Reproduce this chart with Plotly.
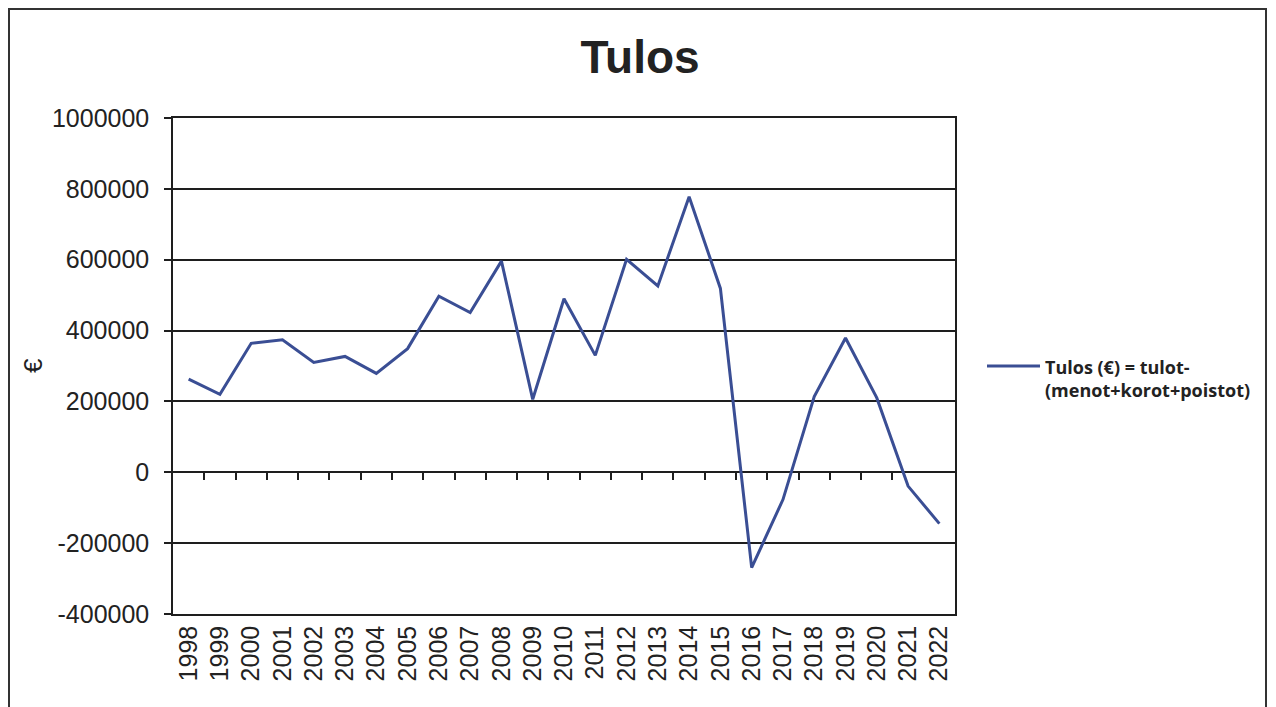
import plotly.graph_objects as go

# --- Data ---
years = [str(y) for y in range(1998, 2023)]
tulos = [263000, 220000, 364000, 374000, 310000, 327000, 279000, 349000,
         497000, 451000, 596000, 206000, 490000, 330000, 601000, 526000,
         778000, 519000, -269000, -77000, 214000, 379000, 210000, -39000,
         -145000]
y_ticks = [-400000, -200000, 0, 200000, 400000, 600000, 800000, 1000000]
y_min, y_max = -400000, 1000000

LINE_COLOR = "#3a4e94"
GRID_COLOR = "#1e1e1e"
FONT = "Liberation Sans, Arial, sans-serif"

# page geometry (px, as seen in the browser window; the page body adds 8px)
W, H = 1276, 707
OFF = 8
FIG_W, FIG_H = W - 2 * OFF, H - OFF
PL, PR, PT, PB = 173, 955, 118, 614   # plot box in window pixels
L, T = PL - OFF, PT - OFF
R, B = (W - OFF) - PR, H - PB
plot_w = PR - PL
plot_h = PB - PT


def px_x(x):
    return (x - PL) / plot_w


def px_y(y):
    return (PB - y) / plot_h


fig = go.Figure()

fig.add_trace(go.Scatter(
    x=years,
    y=tulos,
    mode="lines",
    line=dict(color=LINE_COLOR, width=3),
    name="Tulos (€) = tulot-(menot+korot+poistot)",
    showlegend=False,
))

# invisible trace so the zero-crossing tick axis has something to hold on to
fig.add_trace(go.Scatter(
    x=[0, len(years) - 1], y=[0, 0], xaxis="x2", mode="lines",
    line=dict(width=0), hoverinfo="skip", showlegend=False,
))

# --- Legend drawn by hand (longer line sample than plotly's) ---
fig.add_shape(type="line", xref="paper", yref="paper",
              x0=px_x(987), x1=px_x(1040), y0=px_y(366), y1=px_y(366),
              line=dict(color=LINE_COLOR, width=3))
fig.add_annotation(xref="paper", yref="paper", x=px_x(1043), y=px_y(378),
                   xanchor="left", yanchor="middle", align="left", showarrow=False,
                   text="<b>Tulos (€) = tulot-<br>(menot+korot+poistot)</b>",
                   font=dict(family="Open Sans, sans-serif", size=18, color="#222"))

# y axis title
fig.add_annotation(xref="paper", yref="paper", x=px_x(33), y=px_y(366),
                   xanchor="center", yanchor="middle", showarrow=False, textangle=-90,
                   text="€", font=dict(family=FONT, size=26, color="#222"))

# outer frame
fig.add_shape(type="rect", xref="paper", yref="paper",
              x0=px_x(9), x1=px_x(1266), y0=px_y(740), y1=px_y(9),
              line=dict(color="#333", width=2), layer="below")

fig.update_layout(
    width=FIG_W, height=FIG_H,
    margin=dict(l=L, r=R, t=T, b=B),
    paper_bgcolor="white",
    plot_bgcolor="white",
    font=dict(family=FONT, color="#222"),
    title=dict(text="<b>Tulos</b>", x=px_x(640), xref="paper", xanchor="center",
               y=1 - (57 - OFF) / FIG_H, yanchor="middle",
               font=dict(family=FONT, size=46, color="#222")),
    xaxis=dict(
        type="category",
        range=[-0.5, len(years) - 0.5],
        tickangle=-90,
        ticks="",
        tickfont=dict(size=25, color="#222"),
        showgrid=False,
        showline=True, mirror=True, linecolor=GRID_COLOR, linewidth=1.5,
        fixedrange=True,
    ),
    xaxis2=dict(
        overlaying="x",
        anchor="free",
        position=(0 - y_min) / (y_max - y_min),
        range=[-0.5, len(years) - 0.5],
        tickvals=[i + 0.5 for i in range(len(years) - 2)],
        ticks="outside", ticklen=7, tickwidth=1.5, tickcolor=GRID_COLOR,
        showticklabels=False,
        showgrid=False, zeroline=False, showline=False,
    ),
    yaxis=dict(
        range=[y_min, y_max],
        tickvals=y_ticks,
        ticktext=[str(v) for v in y_ticks],
        ticks="outside", ticklen=7, tickwidth=1.5, tickcolor=GRID_COLOR,
        ticklabelstandoff=10,
        tickfont=dict(size=25, color="#222"),
        showgrid=True, gridcolor=GRID_COLOR, gridwidth=1.5,
        zeroline=False,
        showline=True, mirror=True, linecolor=GRID_COLOR, linewidth=1.5,
    ),
)

fig.write_html("out.html")
